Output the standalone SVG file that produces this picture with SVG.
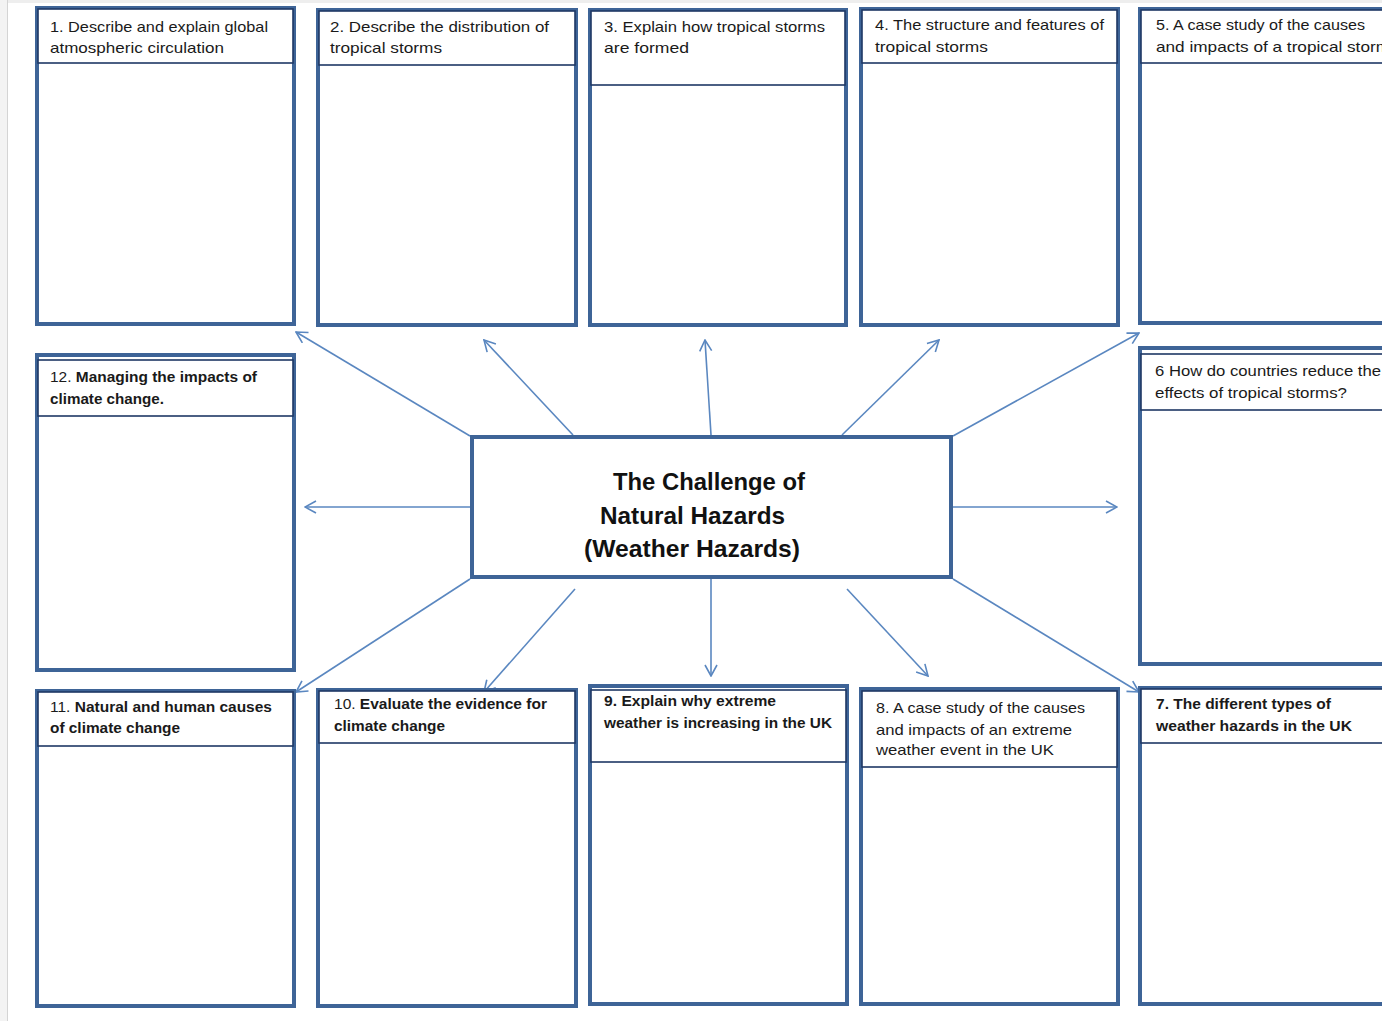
<svg xmlns="http://www.w3.org/2000/svg" width="1382" height="1021" viewBox="0 0 1382 1021">
<style>
.box{fill:#fff;stroke:#3e6497;stroke-width:4}
.hd{fill:#fff;stroke:#1f3864;stroke-width:1.6}
.t{font-family:"Liberation Sans",Arial,sans-serif;font-size:15px;fill:#1a1a1a}
.b{font-weight:bold}
.c{font-family:"Liberation Sans",Arial,sans-serif;font-size:24px;font-weight:bold;fill:#111}
.ar{stroke:#5a87c0;stroke-width:1.6;fill:none;marker-end:url(#ah)}
</style>
<defs>
<marker id="ah" markerUnits="userSpaceOnUse" viewBox="0 0 13 14" refX="12" refY="7" markerWidth="13" markerHeight="14" orient="auto">
<path d="M1,1 L12,7 L1,13" fill="none" stroke="#5a87c0" stroke-width="1.6"/>
</marker>
</defs>
<rect x="0" y="0" width="1382" height="1021" fill="#fff"/>
<rect x="0" y="0" width="1382" height="3" fill="#eeeeee"/>
<rect x="0" y="0" width="7" height="1021" fill="#f3f3f3"/>
<line x1="7.5" y1="0" x2="7.5" y2="1021" stroke="#d4d4d4" stroke-width="1"/>

<g id="connectors">
<line class="ar" x1="470" y1="436" x2="296" y2="332"/>
<line class="ar" x1="573" y1="435" x2="484" y2="340"/>
<line class="ar" x1="711" y1="435" x2="705" y2="340"/>
<line class="ar" x1="842" y1="435" x2="939" y2="340"/>
<line class="ar" x1="953" y1="436" x2="1139" y2="333"/>
<line class="ar" x1="470" y1="507" x2="305" y2="507"/>
<line class="ar" x1="953" y1="507" x2="1117" y2="507"/>
<line class="ar" x1="470" y1="579" x2="296" y2="692"/>
<line class="ar" x1="575" y1="589" x2="484" y2="692"/>
<line class="ar" x1="711" y1="579" x2="711" y2="676"/>
<line class="ar" x1="847" y1="589" x2="928" y2="676"/>
<line class="ar" x1="953" y1="579" x2="1139" y2="692"/>
</g>

<g id="center">
<rect class="box" x="472" y="437" width="479" height="140"/>
<text class="c" x="613" y="490" textLength="192" lengthAdjust="spacingAndGlyphs">The Challenge of</text>
<text class="c" x="600" y="524" textLength="185" lengthAdjust="spacingAndGlyphs">Natural Hazards</text>
<text class="c" x="584" y="557" textLength="216" lengthAdjust="spacingAndGlyphs">(Weather Hazards)</text>
</g>

<g id="box1">
<rect class="box" x="37" y="8" width="257" height="316"/>
<rect class="hd" x="38" y="9" width="255" height="54"/>
<text class="t" x="50" y="32" textLength="218" lengthAdjust="spacingAndGlyphs">1. Describe and explain global</text>
<text class="t" x="50" y="53" textLength="174" lengthAdjust="spacingAndGlyphs">atmospheric circulation</text>
</g>

<g id="box2">
<rect class="box" x="318" y="10" width="258" height="315"/>
<rect class="hd" x="319" y="11" width="256" height="54"/>
<text class="t" x="330" y="32" textLength="219" lengthAdjust="spacingAndGlyphs">2. Describe the distribution of</text>
<text class="t" x="330" y="53" textLength="112" lengthAdjust="spacingAndGlyphs">tropical storms</text>
</g>

<g id="box3">
<rect class="box" x="590" y="10" width="256" height="315"/>
<rect class="hd" x="591" y="11" width="254" height="74"/>
<text class="t" x="604" y="32" textLength="221" lengthAdjust="spacingAndGlyphs">3. Explain how tropical storms</text>
<text class="t" x="604" y="53" textLength="85" lengthAdjust="spacingAndGlyphs">are formed</text>
</g>

<g id="box4">
<rect class="box" x="861" y="9" width="257" height="316"/>
<rect class="hd" x="862" y="10" width="255" height="53"/>
<text class="t" x="875" y="30" textLength="229" lengthAdjust="spacingAndGlyphs">4. The structure and features of</text>
<text class="t" x="875" y="52" textLength="113" lengthAdjust="spacingAndGlyphs">tropical storms</text>
</g>

<g id="box5">
<rect class="box" x="1140" y="9" width="260" height="314"/>
<rect class="hd" x="1141" y="10" width="258" height="53"/>
<text class="t" x="1156" y="30" textLength="209" lengthAdjust="spacingAndGlyphs">5. A case study of the causes</text>
<text class="t" x="1156" y="52" textLength="234" lengthAdjust="spacingAndGlyphs">and impacts of a tropical storm</text>
</g>

<g id="box12">
<rect class="box" x="37" y="355" width="257" height="315"/>
<rect class="hd" x="38" y="360" width="255" height="56"/>
<text class="t" x="50" y="382" textLength="207" lengthAdjust="spacingAndGlyphs">12. <tspan class="b">Managing the impacts of</tspan></text>
<text class="t b" x="50" y="404" textLength="114" lengthAdjust="spacingAndGlyphs">climate change.</text>
</g>

<g id="box6">
<rect class="box" x="1140" y="348" width="260" height="316"/>
<rect class="hd" x="1141" y="354" width="258" height="56"/>
<text class="t" x="1155" y="376" textLength="226" lengthAdjust="spacingAndGlyphs">6 How do countries reduce the</text>
<text class="t" x="1155" y="398" textLength="192" lengthAdjust="spacingAndGlyphs">effects of tropical storms?</text>
</g>

<g id="box11">
<rect class="box" x="37" y="691" width="257" height="315"/>
<rect class="hd" x="38" y="692" width="255" height="54"/>
<text class="t" x="50" y="712" textLength="222" lengthAdjust="spacingAndGlyphs">11. <tspan class="b">Natural and human causes</tspan></text>
<text class="t b" x="50" y="733" textLength="130" lengthAdjust="spacingAndGlyphs">of climate change</text>
</g>

<g id="box10">
<rect class="box" x="318" y="690" width="258" height="316"/>
<rect class="hd" x="319" y="691" width="256" height="52"/>
<text class="t" x="334" y="709" textLength="213" lengthAdjust="spacingAndGlyphs">10. <tspan class="b">Evaluate the evidence for</tspan></text>
<text class="t b" x="334" y="731" textLength="111" lengthAdjust="spacingAndGlyphs">climate change</text>
</g>

<g id="box9">
<rect class="box" x="590" y="686" width="257" height="318"/>
<rect class="hd" x="591" y="690" width="255" height="72"/>
<text class="t b" x="604" y="706" textLength="172" lengthAdjust="spacingAndGlyphs">9. Explain why extreme</text>
<text class="t b" x="604" y="728" textLength="228" lengthAdjust="spacingAndGlyphs">weather  is increasing  in the UK</text>
</g>

<g id="box8">
<rect class="box" x="861" y="689" width="257" height="315"/>
<rect class="hd" x="862" y="691" width="255" height="76"/>
<text class="t" x="876" y="713" textLength="209" lengthAdjust="spacingAndGlyphs">8. A case study of the causes</text>
<text class="t" x="876" y="735" textLength="196" lengthAdjust="spacingAndGlyphs">and impacts of an extreme</text>
<text class="t" x="876" y="755" textLength="178" lengthAdjust="spacingAndGlyphs">weather event in the UK</text>
</g>

<g id="box7">
<rect class="box" x="1140" y="688" width="260" height="316"/>
<rect class="hd" x="1141" y="689" width="258" height="54"/>
<text class="t b" x="1156" y="709" textLength="175" lengthAdjust="spacingAndGlyphs">7. The different types of</text>
<text class="t b" x="1156" y="731" textLength="196" lengthAdjust="spacingAndGlyphs">weather hazards in the UK</text>
</g>
</svg>
